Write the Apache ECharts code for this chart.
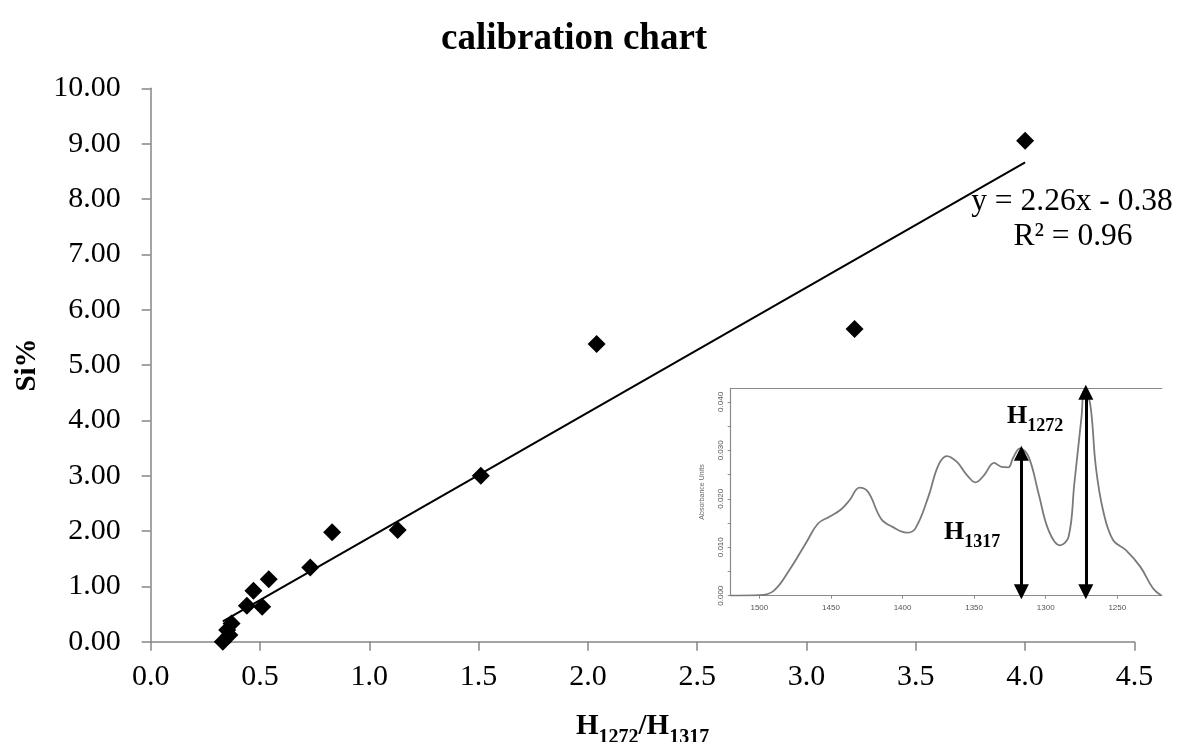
<!DOCTYPE html>
<html>
<head>
<meta charset="utf-8">
<title>calibration chart</title>
<script src="https://cdn.jsdelivr.net/npm/echarts@6/dist/echarts.min.js"></script>
<style>
  html, body { margin: 0; padding: 0; background: #fff; }
  #main { width: 1179px; height: 742px; }
</style>
</head>
<body>
<div id="main"></div>
<script>
// calibration points: H1272/H1317 ratio vs Si%
var ratioX = [0.33, 0.36, 0.35, 0.37, 0.44, 0.51, 0.47, 0.54, 0.73, 0.83, 1.13, 1.51, 2.04, 3.22, 4.00]
var siY = [0.00, 0.12, 0.21, 0.33, 0.65, 0.63, 0.92, 1.13, 1.34, 1.98, 2.02, 3.00, 5.38, 5.65, 9.05]
// linear trendline shown on the chart
var slope = 2.26
var intercept = -0.38

// inset spectrum (wavenumber, absorbance)
var waveNum = [1520, 1500, 1490, 1479, 1467, 1459, 1451, 1443, 1437, 1430, 1424, 1415, 1407, 1397,
  1391, 1382, 1375, 1369, 1362, 1355, 1349, 1343, 1336, 1331, 1326, 1323, 1318, 1312, 1305, 1298,
  1290, 1284, 1280, 1275, 1273, 1269, 1265, 1260, 1253, 1244, 1234, 1225, 1219]
var absorb = [0.0000, 0.0001, 0.0010, 0.0053, 0.0111, 0.0149, 0.0163, 0.0178, 0.0197, 0.0223, 0.0214,
  0.0159, 0.0142, 0.0130, 0.0139, 0.0204, 0.0269, 0.0288, 0.0276, 0.0249, 0.0234, 0.0249, 0.0274,
  0.0266, 0.0265, 0.0283, 0.0304, 0.0287, 0.0211, 0.0135, 0.0104, 0.0122, 0.0232, 0.0369, 0.0424,
  0.0397, 0.0266, 0.0177, 0.0115, 0.0094, 0.0060, 0.0015, 0.0000]
var waveTicks = [1250, 1300, 1350, 1400, 1450, 1500]
var absTicks = [0, 0.01, 0.02, 0.03, 0.04]
var absMinorTicks = [0, 0.005, 0.01, 0.015, 0.02, 0.025, 0.03, 0.035, 0.04]
var peakPos = [1317, 1272]
var peakTop = [0.0302, 0.0428]

var serif = 'Liberation Serif'
var axisGrey = '#868686'
var insetGrey = '#8a8a8a'

var chart = echarts.init(document.getElementById('main'))

var points = ratioX.map(function (x, i) { return [x, siY[i]] })
var xMin = Math.min.apply(null, ratioX)
var xMax = Math.max.apply(null, ratioX)
var trend = [[xMin, slope * xMin + intercept], [xMax, slope * xMax + intercept]]
var spectrum = waveNum.map(function (w, i) { return [w, absorb[i]] })

var arrows = peakPos.map(function (p, i) {
  return [{ coord: [p, 0.0008] }, { coord: [p, peakTop[i] - 0.0008] }]
})

var subRich = {
  h: { fontFamily: serif, fontSize: 26, fontWeight: 'bold', fill: '#000', verticalAlign: 'bottom', padding: [0, 0, 6, 0] },
  s: { fontFamily: serif, fontSize: 18, fontWeight: 'bold', fill: '#000', verticalAlign: 'bottom' }
}

chart.setOption({
  animation: false,
  title: {
    text: 'calibration chart',
    left: 436,
    top: 16,
    textStyle: { fontFamily: serif, fontSize: 37, fontWeight: 'bold', color: '#000' }
  },
  grid: [
    { left: 150.7, right: 44.6, top: 88.3, bottom: 100.3, outerBoundsMode: 'none', containLabel: false },
    { left: 730.7, top: 388.3, width: 431, height: 207.4, outerBoundsMode: 'none', containLabel: false }
  ],
  xAxis: [{
    gridIndex: 0,
    type: 'value',
    min: 0,
    max: 4.5,
    interval: 0.5,
    name: '{h|H}{s|1272}{h|/H}{s|1317}',
    nameLocation: 'middle',
    nameGap: 70,
    nameTextStyle: {
      rich: {
        h: { fontFamily: serif, fontSize: 29, fontWeight: 'bold', color: '#000', verticalAlign: 'bottom', padding: [0, 0, 7, 0] },
        s: { fontFamily: serif, fontSize: 20, fontWeight: 'bold', color: '#000', verticalAlign: 'bottom' }
      }
    },
    splitLine: { show: false },
    axisLine: { lineStyle: { color: axisGrey, width: 1.5 } },
    axisTick: { length: 9, lineStyle: { color: axisGrey, width: 1.5 } },
    axisLabel: {
      margin: 20,
      fontFamily: serif,
      fontSize: 30,
      color: '#000',
      formatter: function (v) { return v.toFixed(1) }
    }
  }, {
    gridIndex: 1,
    type: 'value',
    min: 1219,
    max: 1520,
    inverse: true,
    splitLine: { show: false },
    axisLine: { onZero: false, lineStyle: { color: insetGrey, width: 1.2 } },
    axisTick: { customValues: waveTicks, length: 3, lineStyle: { color: insetGrey } },
    axisLabel: {
      customValues: waveTicks,
      margin: 8,
      fontSize: 8,
      color: '#555',
      fontFamily: 'Liberation Sans',
      formatter: function (v) { return String(v) }
    }
  }, {
    gridIndex: 1,
    type: 'value',
    position: 'top',
    min: 1219,
    max: 1520,
    inverse: true,
    splitLine: { show: false },
    axisLine: { onZero: false, lineStyle: { color: insetGrey, width: 1.2 } },
    axisTick: { show: false },
    axisLabel: { show: false }
  }],
  yAxis: [{
    gridIndex: 0,
    type: 'value',
    min: 0,
    max: 10,
    interval: 1,
    name: 'Si%',
    nameLocation: 'middle',
    nameRotate: 90,
    nameGap: 105,
    nameTextStyle: { fontFamily: serif, fontSize: 29, fontWeight: 'bold', color: '#000' },
    splitLine: { show: false },
    axisLine: { show: true, lineStyle: { color: axisGrey, width: 1.5 } },
    axisTick: { show: true, length: 9, lineStyle: { color: axisGrey, width: 1.5 } },
    axisLabel: {
      margin: 30,
      fontFamily: serif,
      fontSize: 30,
      color: '#000',
      formatter: function (v) { return v.toFixed(2) }
    }
  }, {
    gridIndex: 1,
    type: 'value',
    min: 0,
    max: 0.0428,
    name: 'Absorbance Units',
    nameLocation: 'middle',
    nameRotate: 90,
    nameGap: 25,
    nameTextStyle: { fontSize: 7, color: '#666', fontFamily: 'Liberation Sans' },
    splitLine: { show: false },
    axisLine: { show: true, onZero: false, lineStyle: { color: insetGrey, width: 1.2 } },
    axisTick: { show: true, customValues: absMinorTicks, length: 3, lineStyle: { color: insetGrey } },
    axisLabel: {
      customValues: absTicks,
      rotate: 90,
      margin: 6,
      fontSize: 8,
      color: '#555',
      fontFamily: 'Liberation Sans',
      formatter: function (v) { return v.toFixed(3) }
    }
  }],
  series: [{
    type: 'line',
    xAxisIndex: 0,
    yAxisIndex: 0,
    data: trend,
    symbol: 'none',
    lineStyle: { color: '#000', width: 2 },
    z: 2
  }, {
    type: 'scatter',
    xAxisIndex: 0,
    yAxisIndex: 0,
    data: points,
    symbol: 'diamond',
    symbolSize: 18,
    itemStyle: { color: '#000', opacity: 1 },
    z: 3
  }, {
    type: 'line',
    xAxisIndex: 1,
    yAxisIndex: 1,
    data: spectrum,
    smooth: 0.4,
    symbol: 'none',
    lineStyle: { color: '#7a7a7a', width: 1.8 },
    markLine: {
      silent: true,
      symbol: ['triangle', 'triangle'],
      symbolSize: [15, 15],
      label: { show: false },
      lineStyle: { color: '#000', width: 3, type: 'solid' },
      data: arrows
    }
  }],
  graphic: [{
    type: 'text',
    x: 1072,
    y: 202,
    style: {
      text: 'y = 2.26x - 0.38',
      align: 'center',
      verticalAlign: 'middle',
      fontFamily: serif,
      fontSize: 31.5,
      fill: '#000'
    }
  }, {
    type: 'text',
    x: 1073,
    y: 237,
    style: {
      text: 'R\u00b2 = 0.96',
      align: 'center',
      verticalAlign: 'middle',
      fontFamily: serif,
      fontSize: 31.5,
      fill: '#000'
    }
  }, {
    type: 'text',
    left: 1007,
    top: 403,
    style: { text: '{h|H}{s|1272}', rich: subRich }
  }, {
    type: 'text',
    left: 944,
    top: 519,
    style: { text: '{h|H}{s|1317}', rich: subRich }
  }]
})
</script>
</body>
</html>
